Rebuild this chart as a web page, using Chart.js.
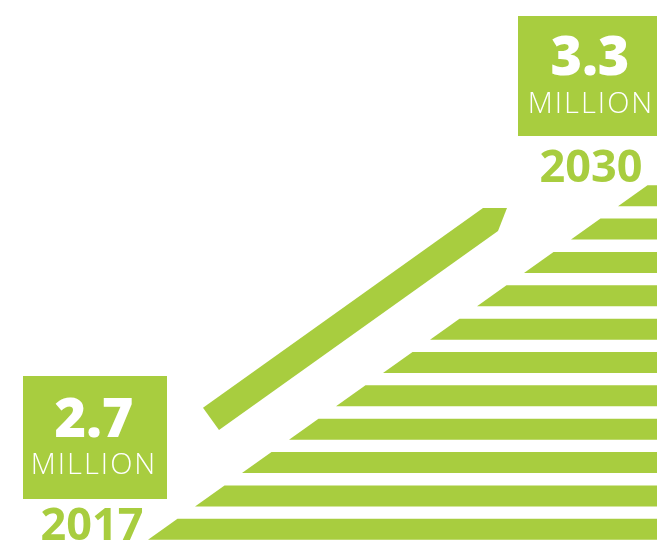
<!DOCTYPE html>
<html>
<head>
<meta charset="utf-8">
<script src="https://cdn.jsdelivr.net/npm/chart.js@4"></script>
<style>
  html, body { margin: 0; padding: 0; background: #ffffff; }
  #wrap { position: relative; width: 657px; height: 548px; overflow: hidden; font-family: "Open Sans", sans-serif; }
  #c { position: absolute; left: 0; top: 0; }
  .box { position: absolute; background: #a8cd3f; }
  .t { position: absolute; text-align: center; white-space: nowrap; }
  .big { color: #ffffff; font-weight: 800; font-size: 54px; line-height: 54px; }
  .unit { color: #ffffff; font-weight: 300; font-size: 29px; line-height: 29px; letter-spacing: 2px; text-indent: 2px; }
  .year { color: #a8cd3f; font-weight: 700; font-size: 45px; line-height: 45px; }
</style>
</head>
<body>
<div id="wrap">
  <canvas id="c" width="657" height="548"></canvas>
  <div class="box" style="left:23px; top:376px; width:144px; height:123px;"></div>
  <div class="box" style="left:518px; top:16px; width:145px; height:120px;"></div>
  <div class="t big"  style="left:19px;  width:150px; top:389px;">2.7</div>
  <div class="t unit" style="left:18px;  width:150px; top:448px;">MILLION</div>
  <div class="t year" style="left:17px;  width:150px; top:500px;">2017</div>
  <div class="t big"  style="left:515px; width:150px; top:27px;">3.3</div>
  <div class="t unit" style="left:515px; width:150px; top:87px;">MILLION</div>
  <div class="t year" style="left:516px; width:150px; top:142px;">2030</div>
</div>
<script>
// ---- data ----
const stripeLabels = ['s1','s2','s3','s4','s5','s6','s7','s8','s9','s10','s11'];
const stripeStart  = [618, 571, 524, 477, 430, 383, 336, 289, 242, 195, 148];
const stripeEnd    = [657, 657, 657, 657, 657, 657, 657, 657, 657, 657, 657];
// arrow outline: x values and fractional row positions
const arrowX   = [203, 483, 507, 498, 219];
const arrowRow = [6.36, 0.37, 0.37, 1.06, 7.02];

const GREEN = '#a8cd3f';
const SLANT = 29.5;

const slantPlugin = {
  id: 'slantBars',
  afterDatasetsDraw(chart) {
    const ctx = chart.ctx;
    const meta = chart.getDatasetMeta(0);
    ctx.save();
    ctx.fillStyle = GREEN;
    meta.data.forEach(el => {
      const p = el.getProps(['x', 'y', 'base', 'height'], true);
      const left = Math.min(p.x, p.base), right = Math.max(p.x, p.base);
      const top = p.y - p.height / 2, bot = p.y + p.height / 2;
      ctx.beginPath();
      ctx.moveTo(left, bot);
      ctx.lineTo(left + SLANT, top);
      ctx.lineTo(right + 2, top);
      ctx.lineTo(right + 2, bot);
      ctx.closePath();
      ctx.fill();
    });
    // arrow
    const xs = chart.scales.x, ys = chart.scales.y;
    ctx.beginPath();
    arrowX.forEach((v, i) => {
      const px = xs.getPixelForValue(v), py = ys.getPixelForValue(arrowRow[i]);
      if (i === 0) ctx.moveTo(px, py); else ctx.lineTo(px, py);
    });
    ctx.closePath();
    ctx.fill();
    ctx.restore();
  }
};

new Chart(document.getElementById('c'), {
  type: 'bar',
  data: {
    labels: stripeLabels,
    datasets: [{
      data: stripeStart.map((s, i) => [s, stripeEnd[i]]),
      backgroundColor: 'rgba(0,0,0,0)',
      borderWidth: 0,
      barPercentage: 0.63,
      categoryPercentage: 1.0
    }]
  },
  options: {
    indexAxis: 'y',
    responsive: false,
    animation: false,
    layout: { padding: { top: 179, bottom: 2, left: 0, right: 0 } },
    plugins: { legend: { display: false }, tooltip: { enabled: false } },
    scales: {
      x: { type: 'linear', min: 0, max: 657, display: false },
      y: { type: 'category', display: false, offset: true }
    }
  },
  plugins: [slantPlugin]
});
</script>
</body>
</html>
